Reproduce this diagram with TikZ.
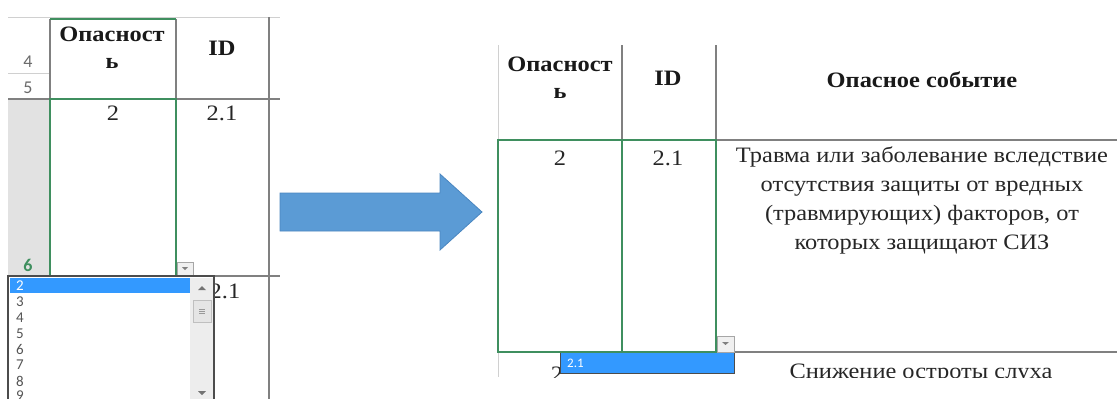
\documentclass[tikz,border=0pt]{standalone}
\usepackage{fontspec}
\setmainfont{Liberation Serif}[FakeStretch=1.11]
\newfontfamily\xlsans{Carlito}
\definecolor{xgreen}{HTML}{3F8F5F}
\definecolor{gridc}{HTML}{808080}
\definecolor{faintc}{HTML}{D0D0D0}
\definecolor{rowgray}{HTML}{E2E2E2}
\definecolor{rownum}{HTML}{6A6A6A}
\definecolor{listc}{HTML}{555555}
\definecolor{selblue}{HTML}{3399FF}
\definecolor{arrowblue}{HTML}{5B9BD5}
\definecolor{arrowedge}{HTML}{4A86C0}
\definecolor{scrollgray}{HTML}{EDEDED}
\tikzset{
  gridline/.style={draw=gridc, line width=1.2pt},
  faintline/.style={draw=faintc, line width=1pt},
  selline/.style={draw=xgreen, line width=1.4pt},
  cell/.style={font=\fontsize{22}{27}\selectfont, text=black!85, inner sep=0pt, align=center},
  headcell/.style={font=\fontsize{22}{27}\selectfont\bfseries, text=black!90, inner sep=0pt, align=center},
  rowno/.style={font=\xlsans\fontsize{18}{20}\selectfont, text=rownum, inner sep=0pt},
  listitem/.style={font=\xlsans\fontsize{15}{17}\selectfont, text=listc, inner sep=0pt, anchor=west},
  dropbtn/.style={draw=gridc!70, fill=black!6, line width=0.8pt},
}
\begin{document}
\begin{tikzpicture}[x=1pt,y=-1pt]
\useasboundingbox (0,0) rectangle (1117,399);
\fill[white] (0,0) rectangle (1117,399);

% ================= LEFT PANEL =================
\fill[rowgray] (8,99) rectangle (49,276);
\draw[faintline] (8,17) -- (280,17);
\draw[faintline] (8,73) -- (49,73);
\draw[gridline] (8,99) -- (280,99);
\draw[gridline] (176,19) -- (176,276);
\draw[gridline] (269,17) -- (269,399);
\draw[gridline] (50,19) -- (50,99);
\draw[selline] (50,19) -- (176,19);
\draw[selline] (50,99) rectangle (176,276);
\draw[gridline] (8,276) -- (280,276);

\node[rowno] (r4) at (28,62) {4};
\node[rowno] (r5) at (28,88) {5};
\node[rowno, text=xgreen, font=\xlsans\bfseries\fontsize{18}{20}\selectfont] (r6) at (28,265) {6};

\node[headcell] (lh1) at (112,48) {Опасност\\ь};
\node[headcell] (lh2) at (222,48) {ID};
\node[cell] (lv1) at (113,113) {2};
\node[cell] (lv2) at (222,113) {2.1};
\node[cell] (lv3) at (225,291) {2.1};

% drop-down button
\draw[dropbtn] (177,262) rectangle (193,276);
\fill[gridc] (182,267) -- (188,267) -- (185,270) -- cycle;

% drop-down list
\fill[white] (8,277) rectangle (214,400);
\draw[draw=black!70, line width=1.2pt] (8,400) -- (8,276) -- (214,276) -- (214,400);
\fill[selblue] (10,278) rectangle (190,293);
\fill[scrollgray] (190,278) rectangle (213,400);
\fill[black!55] (198,290) -- (206,290) -- (202,286) -- cycle;
\draw[draw=black!25, fill=black!10, line width=0.8pt] (193,300) rectangle (211,322);
\draw[black!40, line width=0.6pt] (199,309) -- (205,309) (199,311) -- (205,311) (199,313) -- (205,313);
\fill[black!55] (198,391) -- (206,391) -- (202,395) -- cycle;
\node[listitem, text=white] (i2) at (16,286) {2};
\node[listitem] (i3) at (16,302) {3};
\node[listitem] (i4) at (16,318) {4};
\node[listitem] (i5) at (16,334) {5};
\node[listitem] (i6) at (16,349) {6};
\node[listitem] (i7) at (16,365) {7};
\node[listitem] (i8) at (16,381) {8};
\node[listitem] (i9) at (16,396) {9};

% ================= ARROW =================
\filldraw[fill=arrowblue, draw=arrowedge, line width=0.8pt]
  (280,193) -- (440,193) -- (440,174) -- (482,212) -- (440,250) -- (440,231) -- (280,231) -- cycle;

% ================= RIGHT PANEL =================
\draw[faintline] (498,45) -- (498,140);
\draw[gridline] (622,45) -- (622,140);
\draw[gridline] (716,45) -- (716,140);
\draw[gridline] (498,140) -- (1117,140);
\draw[gridline] (498,352) -- (1117,352);
\draw[selline] (498,140) rectangle (622,352);
\draw[selline] (622,140) rectangle (716,352);

\node[headcell] (rh1) at (560,78) {Опасност\\ь};
\node[headcell] (rh2) at (668,78) {ID};
\node[headcell] (rh3) at (922,80) {Опасное событие};
\node[cell] (rv1) at (560,158) {2};
\node[cell] (rv2) at (668,158) {2.1};
\node[cell, font=\fontsize{22}{29}\selectfont, anchor=north] (rv3) at (922,147)
  {Травма или заболевание вследствие\\отсутствия защиты от вредных\\(травмирующих) факторов, от\\которых защищают СИЗ};

\draw[dropbtn] (717,336) rectangle (734,352);
\fill[gridc] (722,342) -- (729,342) -- (725.5,345) -- cycle;

\begin{scope}
  \clip (490,353) rectangle (1117,377);
  \draw[faintline] (498,353) -- (498,377);
  \node[cell] (rn1) at (557,374) {2};
  \node[cell] (rn3) at (921,374) {Снижение остроты слуха};
  \fill[selblue] (560,353) rectangle (734,373);
  \draw[black!70, line width=1pt] (560,353) -- (560,373) -- (734,373) -- (734,353);
  \node[listitem, text=white, font=\xlsans\fontsize{13}{15}\selectfont] (rn2) at (567,363) {2.1};
\end{scope}
\end{tikzpicture}
\end{document}
